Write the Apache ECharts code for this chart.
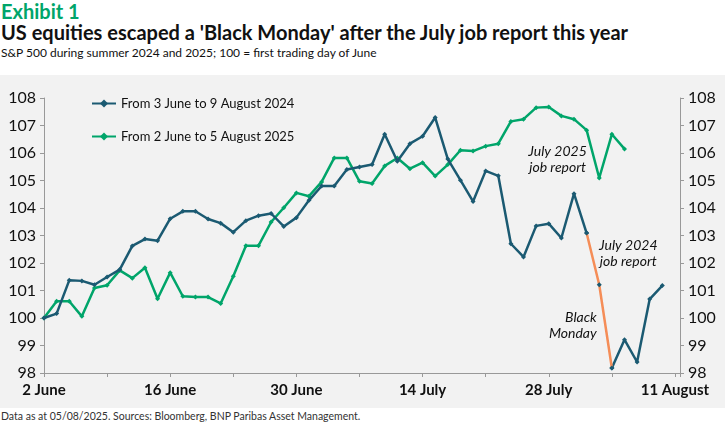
<!DOCTYPE html>
<html>
<head>
<meta charset="utf-8">
<script src="https://cdn.jsdelivr.net/npm/echarts@6/dist/echarts.min.js"></script>
<style>
body { margin: 0; background: #fff; font-family: Lato, "Open Sans", sans-serif; }
#exh { position: absolute; left: 1px; top: -1px; font-size: 20px; font-weight: bold; color: #00a56a; }
#ttl { position: absolute; left: 1px; top: 20px; font-size: 20px; font-weight: bold; color: #111; white-space: nowrap; }
#sub { position: absolute; left: 1px; top: 45px; font-size: 12px; color: #111; white-space: nowrap; }
#chart { position: absolute; left: 0; top: 75px; width: 725px; height: 333px; background: #f2f2f2; }
#foot { position: absolute; left: 1px; top: 410px; font-size: 10.5px; color: #333; white-space: nowrap; }
</style>
</head>
<body>
<div id="exh">Exhibit 1</div>
<div id="ttl">US equities escaped a 'Black Monday' after the July job report this year</div>
<div id="sub">S&amp;P 500 during summer 2024 and 2025; 100 = first trading day of June</div>
<div id="chart"></div>
<div id="foot">Data as at 05/08/2025. Sources: Bloomberg, BNP Paribas Asset Management.</div>
<script>
// x = weekday index from first Monday of June (labels follow 2025 calendar)
var tickLabels = ['2 June', '16 June', '30 June', '14 July', '28 July', '11 August'];
var name2024 = 'From 3 June to 9 August 2024';
var name2025 = 'From 2 June to 5 August 2025';
// S&P 500 rebased, 3 June 2024 = 100
var sp2024 = [100.0, 100.16, 101.37, 101.35, 101.21, 101.49, 101.76, 102.62, 102.87, 102.81,
	103.61, 103.88, 103.88, 103.60, 103.45, 103.12, 103.54, 103.72, 103.80, 103.33,
	103.65, 104.28, 104.80, 104.80, 105.40, 105.49, 105.58, 106.68, 105.70, 106.34,
	106.61, 107.29, 105.78, 105.01, 104.24, 105.35, 105.17, 102.70, 102.22, 103.35,
	103.43, 102.91, 104.52, 103.09, 101.21, 98.18, 99.21, 98.40, 100.69, 101.18];
// S&P 500 rebased, 2 June 2025 = 100
var sp2025 = [100.0, 100.61, 100.61, 100.06, 101.09, 101.19, 101.73, 101.45, 101.83, 100.70,
	101.65, 100.79, 100.76, 100.76, 100.53, 101.52, 102.63, 102.63, 103.49, 104.01,
	104.55, 104.43, 104.95, 105.82, 105.82, 104.97, 104.89, 105.53, 105.82, 105.43,
	105.65, 105.16, 105.58, 106.10, 106.07, 106.25, 106.34, 107.15, 107.23, 107.65,
	107.67, 107.35, 107.23, 106.83, 105.09, 106.68, 106.15];
// the job report / black monday stretch (2024 index 43 to 45)
var crashFrom = 43, crashTo = 45;
var job2025Idx = 44;

var blue = '#1b5a72', green = '#00a56a', orange = '#f58d57';

function pairs(arr, start) {
	return arr.map(function (v, i) { return [i + (start || 0), v]; });
}
// blue line without the crash stretch (the orange series draws it)
var blueData = pairs(sp2024).map(function (p) {
	return (p[0] > crashFrom && p[0] < crashTo) ? [p[0], null] : p;
});

function note(coord, text, align) {
	return {
		coord: coord,
		symbol: 'rect', symbolSize: 1,
		itemStyle: { color: 'rgba(0,0,0,0)' },
		label: { show: true, position: 'inside', formatter: text, fontStyle: 'italic', align: align || 'center',
			fontSize: 14, color: '#111', lineHeight: 16, fontFamily: 'Lato' }
	};
}

var myChart = echarts.init(document.getElementById('chart'));
var axisTxt = { color: '#111', fontSize: 16, fontFamily: 'Lato' };

myChart.setOption({
	animation: false,
	backgroundColor: '#f2f2f2',
	grid: { left: 44, right: 45, top: 23, bottom: 35 },
	legend: {
		data: [name2024, name2025],
		orient: 'vertical',
		left: 86, top: 17,
		itemWidth: 24, itemHeight: 10, itemGap: 20,
		textStyle: { fontSize: 13, color: '#111', fontFamily: 'Lato' }
	},
	xAxis: {
		type: 'value', min: 0, max: 50.4, interval: 5,
		axisLine: { lineStyle: { color: '#999' } },
		axisTick: { lineStyle: { color: '#999' }, length: 4 },
		splitLine: { show: false },
		axisLabel: Object.assign({}, axisTxt, {
			fontWeight: 'bold', fontSize: 15, margin: 10,
			formatter: function (v) {
				return v % 10 === 0 ? tickLabels[v / 10] : '';
			}
		})
	},
	yAxis: [0, 1].map(function (k) {
		return {
			type: 'value', min: 98, max: 108, interval: 1,
			position: k ? 'right' : 'left',
			axisLine: { show: true, lineStyle: { color: '#999' } },
			axisTick: { show: true, lineStyle: { color: '#999' }, length: 4 },
			splitLine: { show: false },
			axisLabel: Object.assign({}, axisTxt, { margin: 8 })
		};
	}),
	series: [
		{
			name: name2024, type: 'line', data: blueData, connectNulls: false,
			symbol: 'diamond', symbolSize: 5,
			itemStyle: { color: blue }, lineStyle: { width: 2.5, color: blue }, z: 3
		},
		{
			name: name2025, type: 'line', data: pairs(sp2025),
			symbol: 'diamond', symbolSize: 5,
			itemStyle: { color: green }, lineStyle: { width: 2.5, color: green }, z: 2,
			markPoint: {
				data: [note([job2025Idx - 3.3, sp2025[job2025Idx] + 0.66], 'July 2025\njob report')]
			}
		},
		{
			name: 'crash', type: 'line', data: pairs(sp2024.slice(crashFrom, crashTo + 1), crashFrom),
			symbol: 'diamond', symbolSize: 5,
			itemStyle: { color: blue }, lineStyle: { width: 2.5, color: orange }, z: 4,
			markPoint: {
				data: [
					note([crashFrom + 3.3, sp2024[crashFrom] - 0.76], 'July 2024\njob report'),
					note([crashFrom + 0.8, sp2024[crashTo] + 1.53], 'Black\nMonday', 'right')
				]
			}
		}
	]
});
</script>
</body>
</html>
